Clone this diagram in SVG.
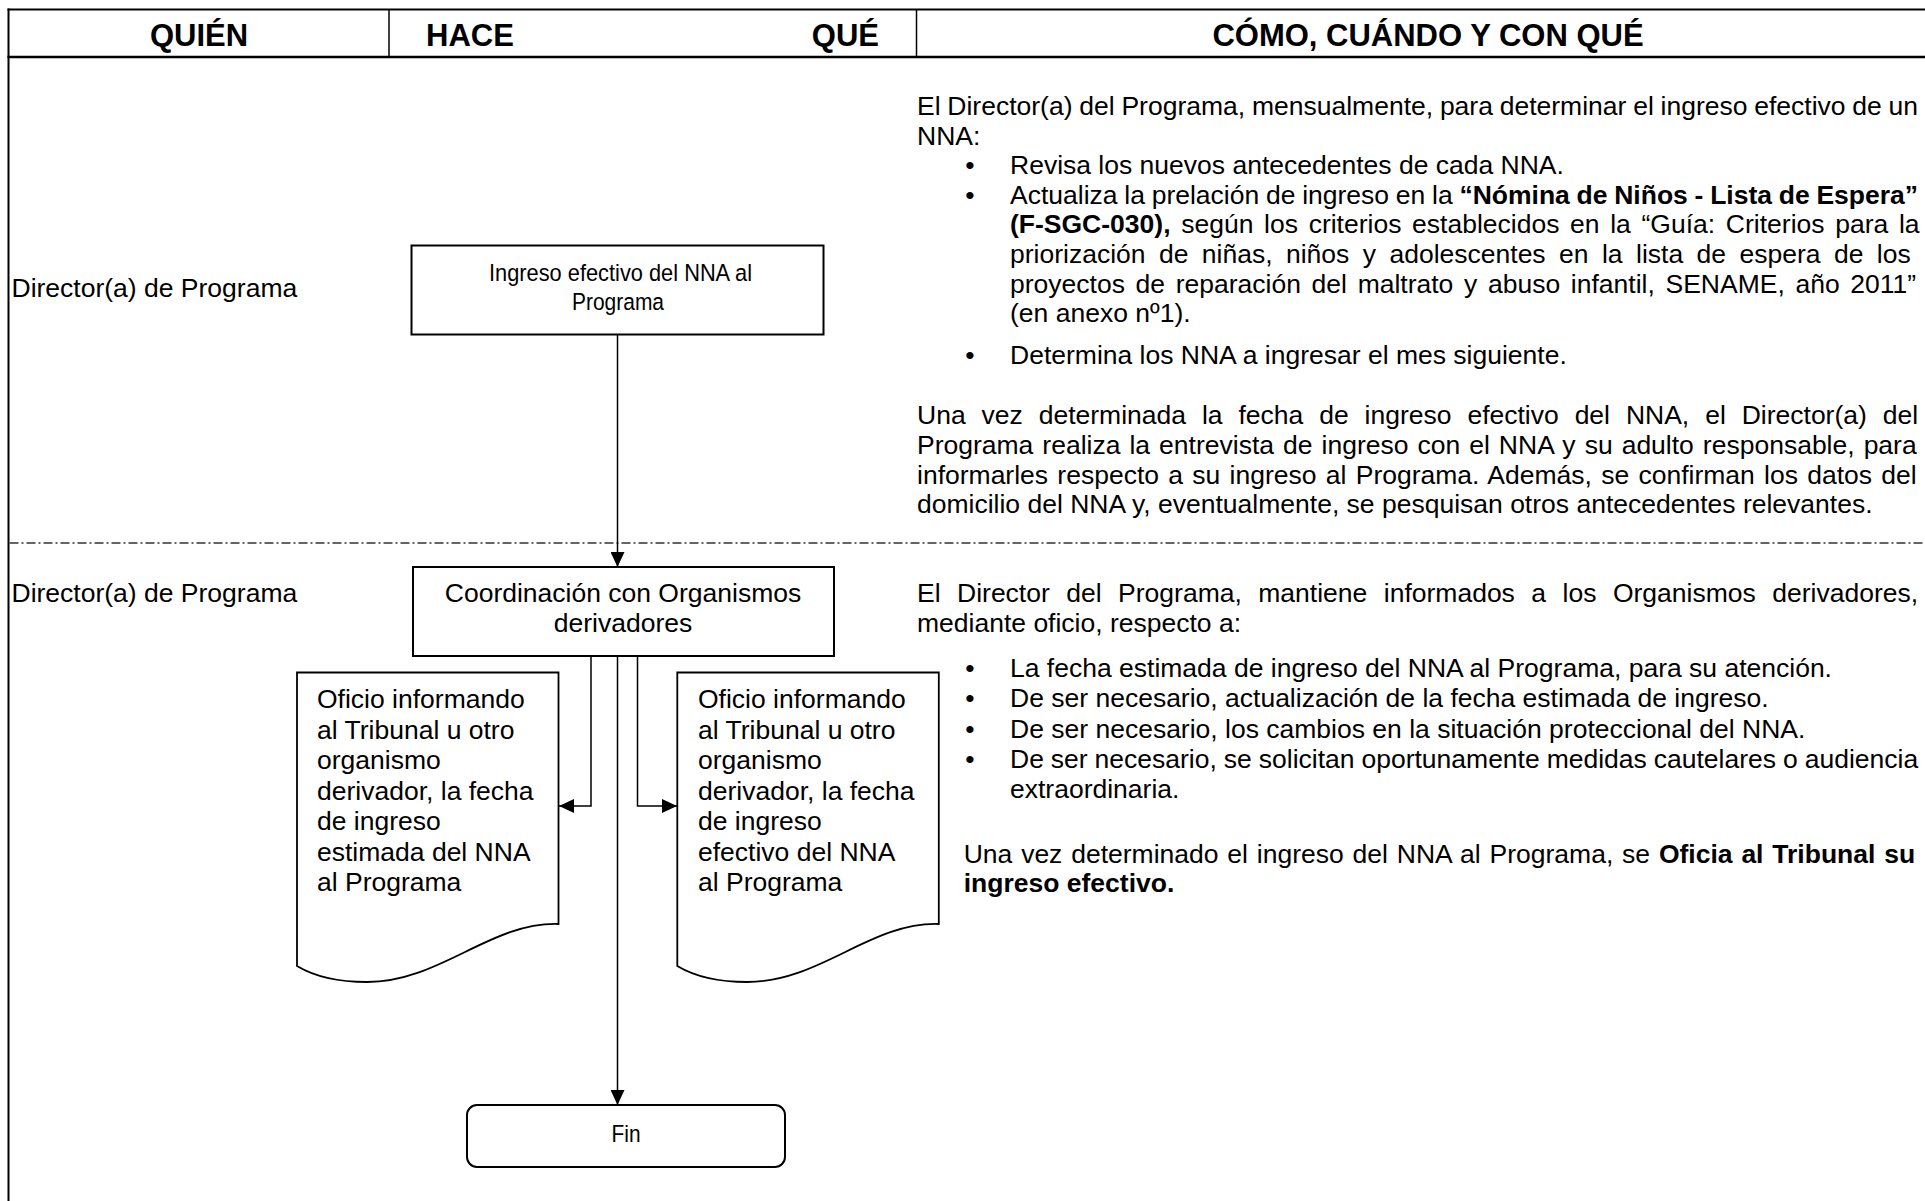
<svg xmlns="http://www.w3.org/2000/svg" width="1925" height="1201" viewBox="0 0 1925 1201">
<style>
text{font-family:'Liberation Sans',Arial,Helvetica,sans-serif;fill:#000}
.h{font-size:31px;font-weight:bold}
.t{font-size:26.5px}
.b{font-weight:bold}
.n{font-size:24.5px}
.line{stroke:#000;fill:none}
.box{fill:#fff;stroke:#000;stroke-width:2}
.doc{fill:#fff;stroke:#000;stroke-width:1.8}
.conn{fill:none;stroke:#000;stroke-width:1.5}
.sep{stroke:#333;stroke-width:1.3;stroke-dasharray:9 3 2 3;fill:none}
</style>
<defs>
<marker id="arr" markerUnits="userSpaceOnUse" markerWidth="15" markerHeight="14" refX="15" refY="7" orient="auto"><path d="M0,0 L15,7 L0,14 z" fill="#000"/></marker>
</defs>
<rect x="0" y="0" width="1925" height="1201" fill="#fff"/>

<g id="table">
<line class="line" x1="7.5" y1="9.5" x2="1925" y2="9.5" stroke-width="2"/>
<line class="line" x1="7.5" y1="57" x2="1925" y2="57" stroke-width="2.5"/>
<line class="line" x1="8.5" y1="8.5" x2="8.5" y2="1201" stroke-width="2"/>
<line class="line" x1="389" y1="9.5" x2="389" y2="57" stroke-width="1.5"/>
<line class="line" x1="916.5" y1="9.5" x2="916.5" y2="57" stroke-width="1.5"/>
<line class="sep" x1="9.5" y1="543" x2="1925" y2="543"/>
<text class="h" x="199" y="45.5" text-anchor="middle">QUIÉN</text>
<text class="h" x="426" y="45.5">HACE</text>
<text class="h" x="879" y="45.5" text-anchor="end">QUÉ</text>
<text class="h" x="1428" y="45.5" text-anchor="middle">CÓMO, CUÁNDO Y CON QUÉ</text>
</g>

<g id="quien">
<text class="t" x="11.5" y="296.7">Director(a) de Programa</text>
<text class="t" x="11.5" y="601.7">Director(a) de Programa</text>
</g>

<g id="como1">
<text class="t" x="917" y="115" word-spacing="-0.58">El Director(a) del Programa, mensualmente, para determinar el ingreso efectivo de un</text>
<text class="t" x="917" y="144.6">NNA:</text>
<text class="t" x="970" y="174.2" text-anchor="middle">•</text>
<text class="t" x="1010" y="174.2">Revisa los nuevos antecedentes de cada NNA.</text>
<text class="t" x="970" y="203.8" text-anchor="middle">•</text>
<text class="t" x="1010" y="203.8" word-spacing="-0.62">Actualiza la prelación de ingreso en la <tspan class="b">“Nómina de Niños - Lista de Espera”</tspan></text>
<text class="t" x="1010" y="233.4" word-spacing="3.32"><tspan class="b">(F-SGC-030),</tspan> según los criterios establecidos en la “Guía: Criterios para la</text>
<text class="t" x="1010" y="263" word-spacing="6.07">priorización de niñas, niños y adolescentes en la lista de espera de los</text>
<text class="t" x="1010" y="292.6" word-spacing="3.31">proyectos de reparación del maltrato y abuso infantil, SENAME, año 2011”</text>
<text class="t" x="1010" y="322.2">(en anexo nº1).</text>
<text class="t" x="970" y="364" text-anchor="middle">•</text>
<text class="t" x="1010" y="364">Determina los NNA a ingresar el mes siguiente.</text>
<text class="t" x="917" y="424.4" word-spacing="8.55">Una vez determinada la fecha de ingreso efectivo del NNA, el Director(a) del</text>
<text class="t" x="917" y="454" word-spacing="1.66">Programa realiza la entrevista de ingreso con el NNA y su adulto responsable, para</text>
<text class="t" x="917" y="483.6" word-spacing="1.93">informarles respecto a su ingreso al Programa. Además, se confirman los datos del</text>
<text class="t" x="917" y="513.2">domicilio del NNA y, eventualmente, se pesquisan otros antecedentes relevantes.</text>
</g>

<g id="como2">
<text class="t" x="917" y="601.7" word-spacing="9.11">El Director del Programa, mantiene informados a los Organismos derivadores,</text>
<text class="t" x="917" y="631.5">mediante oficio, respecto a:</text>
<text class="t" x="970" y="677" text-anchor="middle">•</text>
<text class="t" x="1010" y="677">La fecha estimada de ingreso del NNA al Programa, para su atención.</text>
<text class="t" x="970" y="707" text-anchor="middle">•</text>
<text class="t" x="1010" y="707">De ser necesario, actualización de la fecha estimada de ingreso.</text>
<text class="t" x="970" y="737.5" text-anchor="middle">•</text>
<text class="t" x="1010" y="737.5">De ser necesario, los cambios en la situación proteccional del NNA.</text>
<text class="t" x="970" y="767.5" text-anchor="middle">•</text>
<text class="t" x="1010" y="767.5" word-spacing="-0.41">De ser necesario, se solicitan oportunamente medidas cautelares o audiencia</text>
<text class="t" x="1010" y="798">extraordinaria.</text>
<text class="t" x="963.7" y="862.7" word-spacing="1.47">Una vez determinado el ingreso del NNA al Programa, se <tspan class="b">Oficia al Tribunal su</tspan></text>
<text class="t b" x="963.7" y="892.4">ingreso efectivo.</text>
</g>

<g id="connectors">
<line class="conn" x1="617.5" y1="335" x2="617.5" y2="567" marker-end="url(#arr)"/>
<path class="conn" d="M591,656 V806 H559" marker-end="url(#arr)"/>
<path class="conn" d="M637.5,656 V806 H677" marker-end="url(#arr)"/>
<line class="conn" x1="617.5" y1="656" x2="617.5" y2="1105" marker-end="url(#arr)"/>
</g>

<g id="n-ingreso">
<rect class="box" x="411.5" y="245.5" width="412" height="89"/>
<text class="n" x="620.5" y="280.5" text-anchor="middle" textLength="263" lengthAdjust="spacingAndGlyphs">Ingreso efectivo del NNA al</text>
<text class="n" x="618" y="310" text-anchor="middle" textLength="92" lengthAdjust="spacingAndGlyphs">Programa</text>
</g>

<g id="n-coordinacion">
<rect class="box" x="413" y="567" width="421" height="89"/>
<text class="t" x="623" y="601.7" text-anchor="middle">Coordinación con Organismos</text>
<text class="t" x="623" y="631.7" text-anchor="middle">derivadores</text>
</g>

<g id="n-oficio-estimada">
<path class="doc" d="M297,672.5 H558.5 V924 C490,922 440,982 367,982 C335,982 312,975 297,966 Z"/>
<text class="t" x="317" y="708">Oficio informando</text>
<text class="t" x="317" y="738.5">al Tribunal u otro</text>
<text class="t" x="317" y="769">organismo</text>
<text class="t" x="317" y="799.5">derivador, la fecha</text>
<text class="t" x="317" y="830">de ingreso</text>
<text class="t" x="317" y="860.5">estimada del NNA</text>
<text class="t" x="317" y="891">al Programa</text>
</g>

<g id="n-oficio-efectivo">
<path class="doc" d="M677.3,672.5 H938.8 V924 C870.3,922 820.3,982 747.3,982 C715.3,982 692.3,975 677.3,966 Z"/>
<text class="t" x="698" y="708">Oficio informando</text>
<text class="t" x="698" y="738.5">al Tribunal u otro</text>
<text class="t" x="698" y="769">organismo</text>
<text class="t" x="698" y="799.5">derivador, la fecha</text>
<text class="t" x="698" y="830">de ingreso</text>
<text class="t" x="698" y="860.5">efectivo del NNA</text>
<text class="t" x="698" y="891">al Programa</text>
</g>

<g id="n-fin">
<rect class="box" x="467" y="1105" width="318" height="62" rx="10" ry="10"/>
<text class="n" x="626" y="1142" text-anchor="middle" textLength="29" lengthAdjust="spacingAndGlyphs">Fin</text>
</g>
</svg>
